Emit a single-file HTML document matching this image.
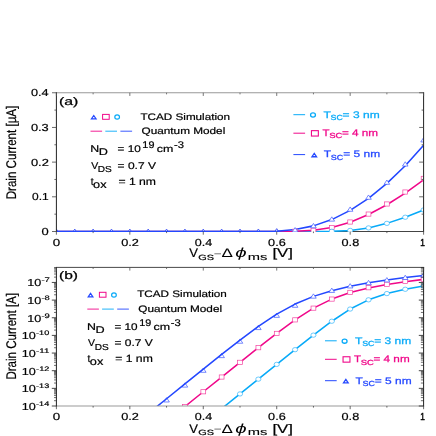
<!DOCTYPE html>
<html><head><meta charset="utf-8"><title>chart</title>
<style>html,body{margin:0;padding:0;background:#fff;}svg{display:block;will-change:transform;}</style></head>
<body>
<svg width="436" height="436" viewBox="0 0 436 436" font-family="'Liberation Sans', sans-serif" text-rendering="geometricPrecision">
<rect width="436" height="436" fill="#fff"/>
<defs><clipPath id="ca"><rect x="56.4" y="92.75" width="367.20000000000005" height="139.35"/></clipPath><clipPath id="cb"><rect x="56.4" y="267.4" width="367.20000000000005" height="138.60000000000002"/></clipPath></defs>
<line x1="56.4" y1="231.5" x2="423.6" y2="231.5" stroke="#222" stroke-width="0.85"/>
<g clip-path="url(#ca)">
<path d="M56.40,231.40 L74.76,231.40 L93.12,231.40 L111.48,231.40 L129.84,231.40 L148.20,231.40 L166.56,231.40 L184.92,231.40 L203.28,231.40 L221.64,231.40 L240.00,231.40 L258.36,231.40 L276.72,231.40 L295.08,231.40 L313.44,231.40 L331.80,231.40" fill="none" stroke="#08aaf8" stroke-width="1.25"/><path d="M331.80,231.30 L350.16,230.42 L368.52,227.91 L386.88,223.37 L405.24,217.24 L423.60,209.96" fill="none" stroke="#08aaf8" stroke-width="1.55" stroke-linejoin="round"/>
<path d="M56.40,231.40 L74.76,231.40 L93.12,231.40 L111.48,231.40 L129.84,231.40 L148.20,231.40 L166.56,231.40 L184.92,231.40 L203.28,231.40 L221.64,231.40 L240.00,231.40 L258.36,231.40 L276.72,231.40 L295.08,231.40" fill="none" stroke="#f0088a" stroke-width="1.25"/><path d="M295.08,231.30 L313.44,230.28 L331.80,227.54 L350.16,222.27 L368.52,214.55 L386.88,204.74 L405.24,193.10 L423.60,179.82" fill="none" stroke="#f0088a" stroke-width="1.55" stroke-linejoin="round"/>
<path d="M53.26,233.91 L59.54,233.91 L56.40,229.09 Z" fill="#fff" stroke="#4a5cf5" stroke-width="1.0"/><path d="M71.62,233.91 L77.90,233.91 L74.76,229.09 Z" fill="#fff" stroke="#4a5cf5" stroke-width="1.0"/><path d="M89.98,233.91 L96.26,233.91 L93.12,229.09 Z" fill="#fff" stroke="#4a5cf5" stroke-width="1.0"/><path d="M108.34,233.91 L114.62,233.91 L111.48,229.09 Z" fill="#fff" stroke="#4a5cf5" stroke-width="1.0"/><path d="M126.70,233.91 L132.98,233.91 L129.84,229.09 Z" fill="#fff" stroke="#4a5cf5" stroke-width="1.0"/><path d="M145.06,233.91 L151.34,233.91 L148.20,229.09 Z" fill="#fff" stroke="#4a5cf5" stroke-width="1.0"/><path d="M163.42,233.91 L169.70,233.91 L166.56,229.09 Z" fill="#fff" stroke="#4a5cf5" stroke-width="1.0"/><path d="M181.78,233.91 L188.06,233.91 L184.92,229.09 Z" fill="#fff" stroke="#4a5cf5" stroke-width="1.0"/><path d="M200.14,233.91 L206.42,233.91 L203.28,229.09 Z" fill="#fff" stroke="#4a5cf5" stroke-width="1.0"/><path d="M218.50,233.91 L224.78,233.91 L221.64,229.09 Z" fill="#fff" stroke="#4a5cf5" stroke-width="1.0"/><path d="M236.86,233.89 L243.14,233.89 L240.00,229.08 Z" fill="#fff" stroke="#4a5cf5" stroke-width="1.0"/><path d="M255.22,233.81 L261.50,233.81 L258.36,228.99 Z" fill="#fff" stroke="#4a5cf5" stroke-width="1.0"/><path d="M273.58,233.42 L279.86,233.42 L276.72,228.61 Z" fill="#fff" stroke="#4a5cf5" stroke-width="1.0"/>
<path d="M56.40,231.40 L74.76,231.40 L93.12,231.40 L111.48,231.40 L129.84,231.40 L148.20,231.40 L166.56,231.40 L184.92,231.40 L203.28,231.40 L221.64,231.40 L240.00,231.40 L258.36,231.40 L276.72,231.40" fill="none" stroke="#2448ff" stroke-width="1.25"/><path d="M276.72,231.30 L295.08,229.43 L313.44,225.87 L331.80,219.58 L350.16,210.37 L368.52,198.28 L386.88,183.38 L405.24,165.71 L423.60,145.31" fill="none" stroke="#2448ff" stroke-width="1.55" stroke-linejoin="round"/>
<rect x="292.68" y="229.14" width="4.80" height="4.20" fill="#fff" stroke="#f440a0" stroke-width="0.7"/><rect x="311.04" y="228.18" width="4.80" height="4.20" fill="#fff" stroke="#f440a0" stroke-width="0.7"/><rect x="329.40" y="225.44" width="4.80" height="4.20" fill="#fff" stroke="#f440a0" stroke-width="0.7"/><rect x="347.76" y="219.91" width="4.80" height="4.20" fill="#fff" stroke="#f440a0" stroke-width="0.7"/><rect x="366.12" y="211.98" width="4.80" height="4.20" fill="#fff" stroke="#f440a0" stroke-width="0.7"/><rect x="384.48" y="201.89" width="4.80" height="4.20" fill="#fff" stroke="#f440a0" stroke-width="0.7"/><rect x="402.84" y="189.93" width="4.80" height="4.20" fill="#fff" stroke="#f440a0" stroke-width="0.7"/><rect x="421.20" y="176.28" width="4.80" height="4.20" fill="#fff" stroke="#f440a0" stroke-width="0.7"/>
<ellipse cx="331.80" cy="231.28" rx="2.60" ry="2.15" fill="#fff" stroke="#30b4fa" stroke-width="0.7"/><ellipse cx="350.16" cy="230.42" rx="2.60" ry="2.15" fill="#fff" stroke="#30b4fa" stroke-width="0.7"/><ellipse cx="368.52" cy="227.91" rx="2.60" ry="2.15" fill="#fff" stroke="#30b4fa" stroke-width="0.7"/><ellipse cx="386.88" cy="223.37" rx="2.60" ry="2.15" fill="#fff" stroke="#30b4fa" stroke-width="0.7"/><ellipse cx="405.24" cy="217.24" rx="2.60" ry="2.15" fill="#fff" stroke="#30b4fa" stroke-width="0.7"/><ellipse cx="423.60" cy="209.96" rx="2.60" ry="2.15" fill="#fff" stroke="#30b4fa" stroke-width="0.7"/>
<path d="M292.28,231.85 L297.88,231.85 L295.08,227.55 Z" fill="#fff" stroke="#3c58ff" stroke-width="0.7"/><path d="M310.64,227.74 L316.24,227.74 L313.44,223.44 Z" fill="#fff" stroke="#3c58ff" stroke-width="0.7"/><path d="M329.00,221.13 L334.60,221.13 L331.80,216.83 Z" fill="#fff" stroke="#3c58ff" stroke-width="0.7"/><path d="M347.36,211.25 L352.96,211.25 L350.16,206.95 Z" fill="#fff" stroke="#3c58ff" stroke-width="0.7"/><path d="M365.72,199.27 L371.32,199.27 L368.52,194.97 Z" fill="#fff" stroke="#3c58ff" stroke-width="0.7"/><path d="M384.08,184.32 L389.68,184.32 L386.88,180.02 Z" fill="#fff" stroke="#3c58ff" stroke-width="0.7"/><path d="M402.44,166.08 L408.04,166.08 L405.24,161.78 Z" fill="#fff" stroke="#3c58ff" stroke-width="0.7"/><path d="M420.80,141.94 L426.40,141.94 L423.60,137.64 Z" fill="#fff" stroke="#3c58ff" stroke-width="0.7"/>
</g>
<g clip-path="url(#cb)">
<path d="M56.40,541.71 L74.76,526.93 L93.12,512.15 L111.48,497.37 L129.84,482.59 L148.20,467.81 L166.56,453.03 L184.92,438.25 L203.28,423.48 L221.64,408.70 L240.00,393.92 L258.36,379.14 L276.72,364.38 L295.08,349.67 L313.44,335.13 L331.80,321.23 L350.16,309.04 L368.52,299.83 L386.88,293.57 L405.24,289.26 L423.60,286.10" fill="none" stroke="#08aaf8" stroke-width="1.55" stroke-linejoin="round"/>
<path d="M56.40,509.78 L74.76,495.03 L93.12,480.27 L111.48,465.52 L129.84,450.77 L148.20,436.02 L166.56,421.27 L184.92,406.52 L203.28,391.77 L221.64,377.03 L240.00,362.33 L258.36,347.71 L276.72,333.39 L295.08,319.87 L313.44,308.14 L331.80,299.08 L350.16,292.60 L368.52,287.94 L386.88,284.44 L405.24,281.67 L423.60,279.39" fill="none" stroke="#f0088a" stroke-width="1.55" stroke-linejoin="round"/>
<rect x="54.00" y="507.68" width="4.80" height="4.20" fill="#fff" stroke="#f440a0" stroke-width="0.7"/><rect x="72.36" y="492.93" width="4.80" height="4.20" fill="#fff" stroke="#f440a0" stroke-width="0.7"/><rect x="90.72" y="478.17" width="4.80" height="4.20" fill="#fff" stroke="#f440a0" stroke-width="0.7"/><rect x="109.08" y="463.42" width="4.80" height="4.20" fill="#fff" stroke="#f440a0" stroke-width="0.7"/><rect x="127.44" y="448.67" width="4.80" height="4.20" fill="#fff" stroke="#f440a0" stroke-width="0.7"/><rect x="145.80" y="433.92" width="4.80" height="4.20" fill="#fff" stroke="#f440a0" stroke-width="0.7"/><rect x="164.16" y="419.17" width="4.80" height="4.20" fill="#fff" stroke="#f440a0" stroke-width="0.7"/><rect x="182.52" y="404.42" width="4.80" height="4.20" fill="#fff" stroke="#f440a0" stroke-width="0.7"/><rect x="200.88" y="389.67" width="4.80" height="4.20" fill="#fff" stroke="#f440a0" stroke-width="0.7"/><rect x="219.24" y="374.93" width="4.80" height="4.20" fill="#fff" stroke="#f440a0" stroke-width="0.7"/><rect x="237.60" y="360.23" width="4.80" height="4.20" fill="#fff" stroke="#f440a0" stroke-width="0.7"/><rect x="255.96" y="345.61" width="4.80" height="4.20" fill="#fff" stroke="#f440a0" stroke-width="0.7"/><rect x="274.32" y="331.29" width="4.80" height="4.20" fill="#fff" stroke="#f440a0" stroke-width="0.7"/><rect x="292.68" y="317.77" width="4.80" height="4.20" fill="#fff" stroke="#f440a0" stroke-width="0.7"/><rect x="311.04" y="306.04" width="4.80" height="4.20" fill="#fff" stroke="#f440a0" stroke-width="0.7"/><rect x="329.40" y="296.98" width="4.80" height="4.20" fill="#fff" stroke="#f440a0" stroke-width="0.7"/><rect x="347.76" y="290.29" width="4.80" height="4.20" fill="#fff" stroke="#f440a0" stroke-width="0.7"/><rect x="366.12" y="285.63" width="4.80" height="4.20" fill="#fff" stroke="#f440a0" stroke-width="0.7"/><rect x="384.48" y="282.13" width="4.80" height="4.20" fill="#fff" stroke="#f440a0" stroke-width="0.7"/><rect x="402.84" y="279.36" width="4.80" height="4.20" fill="#fff" stroke="#f440a0" stroke-width="0.7"/><rect x="421.20" y="277.08" width="4.80" height="4.20" fill="#fff" stroke="#f440a0" stroke-width="0.7"/>
<ellipse cx="56.40" cy="541.71" rx="2.60" ry="2.15" fill="#fff" stroke="#30b4fa" stroke-width="0.7"/><ellipse cx="74.76" cy="526.93" rx="2.60" ry="2.15" fill="#fff" stroke="#30b4fa" stroke-width="0.7"/><ellipse cx="93.12" cy="512.15" rx="2.60" ry="2.15" fill="#fff" stroke="#30b4fa" stroke-width="0.7"/><ellipse cx="111.48" cy="497.37" rx="2.60" ry="2.15" fill="#fff" stroke="#30b4fa" stroke-width="0.7"/><ellipse cx="129.84" cy="482.59" rx="2.60" ry="2.15" fill="#fff" stroke="#30b4fa" stroke-width="0.7"/><ellipse cx="148.20" cy="467.81" rx="2.60" ry="2.15" fill="#fff" stroke="#30b4fa" stroke-width="0.7"/><ellipse cx="166.56" cy="453.03" rx="2.60" ry="2.15" fill="#fff" stroke="#30b4fa" stroke-width="0.7"/><ellipse cx="184.92" cy="438.25" rx="2.60" ry="2.15" fill="#fff" stroke="#30b4fa" stroke-width="0.7"/><ellipse cx="203.28" cy="423.48" rx="2.60" ry="2.15" fill="#fff" stroke="#30b4fa" stroke-width="0.7"/><ellipse cx="221.64" cy="408.70" rx="2.60" ry="2.15" fill="#fff" stroke="#30b4fa" stroke-width="0.7"/><ellipse cx="240.00" cy="393.92" rx="2.60" ry="2.15" fill="#fff" stroke="#30b4fa" stroke-width="0.7"/><ellipse cx="258.36" cy="379.14" rx="2.60" ry="2.15" fill="#fff" stroke="#30b4fa" stroke-width="0.7"/><ellipse cx="276.72" cy="364.38" rx="2.60" ry="2.15" fill="#fff" stroke="#30b4fa" stroke-width="0.7"/><ellipse cx="295.08" cy="349.67" rx="2.60" ry="2.15" fill="#fff" stroke="#30b4fa" stroke-width="0.7"/><ellipse cx="313.44" cy="335.13" rx="2.60" ry="2.15" fill="#fff" stroke="#30b4fa" stroke-width="0.7"/><ellipse cx="331.80" cy="321.23" rx="2.60" ry="2.15" fill="#fff" stroke="#30b4fa" stroke-width="0.7"/><ellipse cx="350.16" cy="309.04" rx="2.60" ry="2.15" fill="#fff" stroke="#30b4fa" stroke-width="0.7"/><ellipse cx="368.52" cy="299.83" rx="2.60" ry="2.15" fill="#fff" stroke="#30b4fa" stroke-width="0.7"/><ellipse cx="386.88" cy="293.57" rx="2.60" ry="2.15" fill="#fff" stroke="#30b4fa" stroke-width="0.7"/><ellipse cx="405.24" cy="289.26" rx="2.60" ry="2.15" fill="#fff" stroke="#30b4fa" stroke-width="0.7"/><ellipse cx="423.60" cy="286.10" rx="2.60" ry="2.15" fill="#fff" stroke="#30b4fa" stroke-width="0.7"/>
<path d="M53.60,491.23 L59.20,491.23 L56.40,486.93 Z" fill="#fff" stroke="#3c58ff" stroke-width="0.7"/><path d="M71.96,476.35 L77.56,476.35 L74.76,472.05 Z" fill="#fff" stroke="#3c58ff" stroke-width="0.7"/><path d="M90.32,461.47 L95.92,461.47 L93.12,457.17 Z" fill="#fff" stroke="#3c58ff" stroke-width="0.7"/><path d="M108.68,446.59 L114.28,446.59 L111.48,442.29 Z" fill="#fff" stroke="#3c58ff" stroke-width="0.7"/><path d="M127.04,431.72 L132.64,431.72 L129.84,427.42 Z" fill="#fff" stroke="#3c58ff" stroke-width="0.7"/><path d="M145.40,416.84 L151.00,416.84 L148.20,412.54 Z" fill="#fff" stroke="#3c58ff" stroke-width="0.7"/><path d="M163.76,401.97 L169.36,401.97 L166.56,397.67 Z" fill="#fff" stroke="#3c58ff" stroke-width="0.7"/><path d="M182.12,387.12 L187.72,387.12 L184.92,382.82 Z" fill="#fff" stroke="#3c58ff" stroke-width="0.7"/><path d="M200.48,372.31 L206.08,372.31 L203.28,368.01 Z" fill="#fff" stroke="#3c58ff" stroke-width="0.7"/><path d="M218.84,357.63 L224.44,357.63 L221.64,353.33 Z" fill="#fff" stroke="#3c58ff" stroke-width="0.7"/><path d="M237.20,343.24 L242.80,343.24 L240.00,338.94 Z" fill="#fff" stroke="#3c58ff" stroke-width="0.7"/><path d="M255.56,329.58 L261.16,329.58 L258.36,325.28 Z" fill="#fff" stroke="#3c58ff" stroke-width="0.7"/><path d="M273.92,317.34 L279.52,317.34 L276.72,313.04 Z" fill="#fff" stroke="#3c58ff" stroke-width="0.7"/><path d="M292.28,307.29 L297.88,307.29 L295.08,302.99 Z" fill="#fff" stroke="#3c58ff" stroke-width="0.7"/>
<path d="M56.40,488.01 L74.76,473.13 L93.12,458.26 L111.48,443.38 L129.84,428.50 L148.20,413.62 L166.56,398.75 L184.92,383.90 L203.28,369.10 L221.64,354.41 L240.00,340.03 L258.36,326.36 L276.72,314.13 L295.08,304.07 L313.44,296.38 L331.80,290.64 L350.16,286.25 L368.52,282.78 L386.88,279.94 L405.24,277.54 L423.60,275.47" fill="none" stroke="#2448ff" stroke-width="1.55" stroke-linejoin="round"/>
<path d="M310.64,298.16 L316.24,298.16 L313.44,293.86 Z" fill="#fff" stroke="#3c58ff" stroke-width="0.7"/><path d="M329.00,292.41 L334.60,292.41 L331.80,288.11 Z" fill="#fff" stroke="#3c58ff" stroke-width="0.7"/><path d="M347.36,287.95 L352.96,287.95 L350.16,283.65 Z" fill="#fff" stroke="#3c58ff" stroke-width="0.7"/><path d="M365.72,284.67 L371.32,284.67 L368.52,280.37 Z" fill="#fff" stroke="#3c58ff" stroke-width="0.7"/><path d="M384.08,281.90 L389.68,281.90 L386.88,277.60 Z" fill="#fff" stroke="#3c58ff" stroke-width="0.7"/><path d="M402.44,279.49 L408.04,279.49 L405.24,275.19 Z" fill="#fff" stroke="#3c58ff" stroke-width="0.7"/><path d="M420.80,277.15 L426.40,277.15 L423.60,272.85 Z" fill="#fff" stroke="#3c58ff" stroke-width="0.7"/>
</g>
<line x1="55.90" y1="92.75" x2="424.10" y2="92.75" stroke="#999" stroke-width="1.2"/>
<line x1="56.40" y1="92.35" x2="56.40" y2="231.90" stroke="#222" stroke-width="1"/>
<line x1="423.60" y1="92.35" x2="423.60" y2="231.90" stroke="#222" stroke-width="1"/>
<line x1="56.40" y1="92.75" x2="56.40" y2="95.95" stroke="#555" stroke-width="0.8"/>
<line x1="56.40" y1="231.50" x2="56.40" y2="234.70" stroke="#444" stroke-width="0.8"/>
<line x1="93.12" y1="92.75" x2="93.12" y2="94.35" stroke="#555" stroke-width="0.8"/>
<line x1="93.12" y1="231.50" x2="93.12" y2="233.10" stroke="#444" stroke-width="0.8"/>
<line x1="129.84" y1="92.75" x2="129.84" y2="95.95" stroke="#555" stroke-width="0.8"/>
<line x1="129.84" y1="231.50" x2="129.84" y2="234.70" stroke="#444" stroke-width="0.8"/>
<line x1="166.56" y1="92.75" x2="166.56" y2="94.35" stroke="#555" stroke-width="0.8"/>
<line x1="166.56" y1="231.50" x2="166.56" y2="233.10" stroke="#444" stroke-width="0.8"/>
<line x1="203.28" y1="92.75" x2="203.28" y2="95.95" stroke="#555" stroke-width="0.8"/>
<line x1="203.28" y1="231.50" x2="203.28" y2="234.70" stroke="#444" stroke-width="0.8"/>
<line x1="240.00" y1="92.75" x2="240.00" y2="94.35" stroke="#555" stroke-width="0.8"/>
<line x1="240.00" y1="231.50" x2="240.00" y2="233.10" stroke="#444" stroke-width="0.8"/>
<line x1="276.72" y1="92.75" x2="276.72" y2="95.95" stroke="#555" stroke-width="0.8"/>
<line x1="276.72" y1="231.50" x2="276.72" y2="234.70" stroke="#444" stroke-width="0.8"/>
<line x1="313.44" y1="92.75" x2="313.44" y2="94.35" stroke="#555" stroke-width="0.8"/>
<line x1="313.44" y1="231.50" x2="313.44" y2="233.10" stroke="#444" stroke-width="0.8"/>
<line x1="350.16" y1="92.75" x2="350.16" y2="95.95" stroke="#555" stroke-width="0.8"/>
<line x1="350.16" y1="231.50" x2="350.16" y2="234.70" stroke="#444" stroke-width="0.8"/>
<line x1="386.88" y1="92.75" x2="386.88" y2="94.35" stroke="#555" stroke-width="0.8"/>
<line x1="386.88" y1="231.50" x2="386.88" y2="233.10" stroke="#444" stroke-width="0.8"/>
<line x1="423.60" y1="92.75" x2="423.60" y2="95.95" stroke="#555" stroke-width="0.8"/>
<line x1="423.60" y1="231.50" x2="423.60" y2="234.70" stroke="#444" stroke-width="0.8"/>
<line x1="55.90" y1="267.40" x2="424.10" y2="267.40" stroke="#333" stroke-width="0.9"/>
<line x1="55.90" y1="406.00" x2="424.10" y2="406.00" stroke="#999" stroke-width="1.0"/>
<line x1="56.40" y1="267.00" x2="56.40" y2="406.40" stroke="#222" stroke-width="1"/>
<line x1="423.60" y1="267.00" x2="423.60" y2="406.40" stroke="#222" stroke-width="1"/>
<line x1="56.40" y1="267.40" x2="56.40" y2="270.60" stroke="#555" stroke-width="0.8"/>
<line x1="56.40" y1="406.00" x2="56.40" y2="409.20" stroke="#444" stroke-width="0.8"/>
<line x1="93.12" y1="267.40" x2="93.12" y2="269.00" stroke="#555" stroke-width="0.8"/>
<line x1="93.12" y1="406.00" x2="93.12" y2="407.60" stroke="#444" stroke-width="0.8"/>
<line x1="129.84" y1="267.40" x2="129.84" y2="270.60" stroke="#555" stroke-width="0.8"/>
<line x1="129.84" y1="406.00" x2="129.84" y2="409.20" stroke="#444" stroke-width="0.8"/>
<line x1="166.56" y1="267.40" x2="166.56" y2="269.00" stroke="#555" stroke-width="0.8"/>
<line x1="166.56" y1="406.00" x2="166.56" y2="407.60" stroke="#444" stroke-width="0.8"/>
<line x1="203.28" y1="267.40" x2="203.28" y2="270.60" stroke="#555" stroke-width="0.8"/>
<line x1="203.28" y1="406.00" x2="203.28" y2="409.20" stroke="#444" stroke-width="0.8"/>
<line x1="240.00" y1="267.40" x2="240.00" y2="269.00" stroke="#555" stroke-width="0.8"/>
<line x1="240.00" y1="406.00" x2="240.00" y2="407.60" stroke="#444" stroke-width="0.8"/>
<line x1="276.72" y1="267.40" x2="276.72" y2="270.60" stroke="#555" stroke-width="0.8"/>
<line x1="276.72" y1="406.00" x2="276.72" y2="409.20" stroke="#444" stroke-width="0.8"/>
<line x1="313.44" y1="267.40" x2="313.44" y2="269.00" stroke="#555" stroke-width="0.8"/>
<line x1="313.44" y1="406.00" x2="313.44" y2="407.60" stroke="#444" stroke-width="0.8"/>
<line x1="350.16" y1="267.40" x2="350.16" y2="270.60" stroke="#555" stroke-width="0.8"/>
<line x1="350.16" y1="406.00" x2="350.16" y2="409.20" stroke="#444" stroke-width="0.8"/>
<line x1="386.88" y1="267.40" x2="386.88" y2="269.00" stroke="#555" stroke-width="0.8"/>
<line x1="386.88" y1="406.00" x2="386.88" y2="407.60" stroke="#444" stroke-width="0.8"/>
<line x1="423.60" y1="267.40" x2="423.60" y2="270.60" stroke="#555" stroke-width="0.8"/>
<line x1="423.60" y1="406.00" x2="423.60" y2="409.20" stroke="#444" stroke-width="0.8"/>
<line x1="52.00" y1="231.50" x2="56.40" y2="231.50" stroke="#444" stroke-width="0.8"/>
<line x1="419.20" y1="231.50" x2="423.60" y2="231.50" stroke="#444" stroke-width="0.8"/>
<line x1="54.40" y1="214.16" x2="56.40" y2="214.16" stroke="#444" stroke-width="0.8"/>
<line x1="421.60" y1="214.16" x2="423.60" y2="214.16" stroke="#444" stroke-width="0.8"/>
<line x1="52.00" y1="196.81" x2="56.40" y2="196.81" stroke="#444" stroke-width="0.8"/>
<line x1="419.20" y1="196.81" x2="423.60" y2="196.81" stroke="#444" stroke-width="0.8"/>
<line x1="54.40" y1="179.47" x2="56.40" y2="179.47" stroke="#444" stroke-width="0.8"/>
<line x1="421.60" y1="179.47" x2="423.60" y2="179.47" stroke="#444" stroke-width="0.8"/>
<line x1="52.00" y1="162.12" x2="56.40" y2="162.12" stroke="#444" stroke-width="0.8"/>
<line x1="419.20" y1="162.12" x2="423.60" y2="162.12" stroke="#444" stroke-width="0.8"/>
<line x1="54.40" y1="144.78" x2="56.40" y2="144.78" stroke="#444" stroke-width="0.8"/>
<line x1="421.60" y1="144.78" x2="423.60" y2="144.78" stroke="#444" stroke-width="0.8"/>
<line x1="52.00" y1="127.44" x2="56.40" y2="127.44" stroke="#444" stroke-width="0.8"/>
<line x1="419.20" y1="127.44" x2="423.60" y2="127.44" stroke="#444" stroke-width="0.8"/>
<line x1="54.40" y1="110.09" x2="56.40" y2="110.09" stroke="#444" stroke-width="0.8"/>
<line x1="421.60" y1="110.09" x2="423.60" y2="110.09" stroke="#444" stroke-width="0.8"/>
<line x1="52.00" y1="92.75" x2="56.40" y2="92.75" stroke="#444" stroke-width="0.8"/>
<line x1="419.20" y1="92.75" x2="423.60" y2="92.75" stroke="#444" stroke-width="0.8"/>
<line x1="51.80" y1="406.00" x2="56.40" y2="406.00" stroke="#333" stroke-width="0.9"/>
<line x1="418.80" y1="406.00" x2="423.60" y2="406.00" stroke="#333" stroke-width="0.9"/>
<line x1="54.00" y1="400.69" x2="56.40" y2="400.69" stroke="#222" stroke-width="0.65"/>
<line x1="420.90" y1="400.69" x2="423.60" y2="400.69" stroke="#222" stroke-width="0.65"/>
<line x1="54.00" y1="397.58" x2="56.40" y2="397.58" stroke="#222" stroke-width="0.65"/>
<line x1="420.90" y1="397.58" x2="423.60" y2="397.58" stroke="#222" stroke-width="0.65"/>
<line x1="54.00" y1="395.37" x2="56.40" y2="395.37" stroke="#222" stroke-width="0.65"/>
<line x1="420.90" y1="395.37" x2="423.60" y2="395.37" stroke="#222" stroke-width="0.65"/>
<line x1="54.00" y1="393.66" x2="56.40" y2="393.66" stroke="#222" stroke-width="0.65"/>
<line x1="420.90" y1="393.66" x2="423.60" y2="393.66" stroke="#222" stroke-width="0.65"/>
<line x1="54.00" y1="392.27" x2="56.40" y2="392.27" stroke="#222" stroke-width="0.65"/>
<line x1="420.90" y1="392.27" x2="423.60" y2="392.27" stroke="#222" stroke-width="0.65"/>
<line x1="54.00" y1="391.08" x2="56.40" y2="391.08" stroke="#222" stroke-width="0.65"/>
<line x1="420.90" y1="391.08" x2="423.60" y2="391.08" stroke="#222" stroke-width="0.65"/>
<line x1="54.00" y1="390.06" x2="56.40" y2="390.06" stroke="#222" stroke-width="0.65"/>
<line x1="420.90" y1="390.06" x2="423.60" y2="390.06" stroke="#222" stroke-width="0.65"/>
<line x1="54.00" y1="389.16" x2="56.40" y2="389.16" stroke="#222" stroke-width="0.65"/>
<line x1="420.90" y1="389.16" x2="423.60" y2="389.16" stroke="#222" stroke-width="0.65"/>
<line x1="51.80" y1="388.35" x2="56.40" y2="388.35" stroke="#333" stroke-width="0.9"/>
<line x1="418.80" y1="388.35" x2="423.60" y2="388.35" stroke="#333" stroke-width="0.9"/>
<line x1="54.00" y1="383.04" x2="56.40" y2="383.04" stroke="#222" stroke-width="0.65"/>
<line x1="420.90" y1="383.04" x2="423.60" y2="383.04" stroke="#222" stroke-width="0.65"/>
<line x1="54.00" y1="379.93" x2="56.40" y2="379.93" stroke="#222" stroke-width="0.65"/>
<line x1="420.90" y1="379.93" x2="423.60" y2="379.93" stroke="#222" stroke-width="0.65"/>
<line x1="54.00" y1="377.72" x2="56.40" y2="377.72" stroke="#222" stroke-width="0.65"/>
<line x1="420.90" y1="377.72" x2="423.60" y2="377.72" stroke="#222" stroke-width="0.65"/>
<line x1="54.00" y1="376.01" x2="56.40" y2="376.01" stroke="#222" stroke-width="0.65"/>
<line x1="420.90" y1="376.01" x2="423.60" y2="376.01" stroke="#222" stroke-width="0.65"/>
<line x1="54.00" y1="374.62" x2="56.40" y2="374.62" stroke="#222" stroke-width="0.65"/>
<line x1="420.90" y1="374.62" x2="423.60" y2="374.62" stroke="#222" stroke-width="0.65"/>
<line x1="54.00" y1="373.43" x2="56.40" y2="373.43" stroke="#222" stroke-width="0.65"/>
<line x1="420.90" y1="373.43" x2="423.60" y2="373.43" stroke="#222" stroke-width="0.65"/>
<line x1="54.00" y1="372.41" x2="56.40" y2="372.41" stroke="#222" stroke-width="0.65"/>
<line x1="420.90" y1="372.41" x2="423.60" y2="372.41" stroke="#222" stroke-width="0.65"/>
<line x1="54.00" y1="371.51" x2="56.40" y2="371.51" stroke="#222" stroke-width="0.65"/>
<line x1="420.90" y1="371.51" x2="423.60" y2="371.51" stroke="#222" stroke-width="0.65"/>
<line x1="51.80" y1="370.70" x2="56.40" y2="370.70" stroke="#333" stroke-width="0.9"/>
<line x1="418.80" y1="370.70" x2="423.60" y2="370.70" stroke="#333" stroke-width="0.9"/>
<line x1="54.00" y1="365.39" x2="56.40" y2="365.39" stroke="#222" stroke-width="0.65"/>
<line x1="420.90" y1="365.39" x2="423.60" y2="365.39" stroke="#222" stroke-width="0.65"/>
<line x1="54.00" y1="362.28" x2="56.40" y2="362.28" stroke="#222" stroke-width="0.65"/>
<line x1="420.90" y1="362.28" x2="423.60" y2="362.28" stroke="#222" stroke-width="0.65"/>
<line x1="54.00" y1="360.07" x2="56.40" y2="360.07" stroke="#222" stroke-width="0.65"/>
<line x1="420.90" y1="360.07" x2="423.60" y2="360.07" stroke="#222" stroke-width="0.65"/>
<line x1="54.00" y1="358.36" x2="56.40" y2="358.36" stroke="#222" stroke-width="0.65"/>
<line x1="420.90" y1="358.36" x2="423.60" y2="358.36" stroke="#222" stroke-width="0.65"/>
<line x1="54.00" y1="356.97" x2="56.40" y2="356.97" stroke="#222" stroke-width="0.65"/>
<line x1="420.90" y1="356.97" x2="423.60" y2="356.97" stroke="#222" stroke-width="0.65"/>
<line x1="54.00" y1="355.78" x2="56.40" y2="355.78" stroke="#222" stroke-width="0.65"/>
<line x1="420.90" y1="355.78" x2="423.60" y2="355.78" stroke="#222" stroke-width="0.65"/>
<line x1="54.00" y1="354.76" x2="56.40" y2="354.76" stroke="#222" stroke-width="0.65"/>
<line x1="420.90" y1="354.76" x2="423.60" y2="354.76" stroke="#222" stroke-width="0.65"/>
<line x1="54.00" y1="353.86" x2="56.40" y2="353.86" stroke="#222" stroke-width="0.65"/>
<line x1="420.90" y1="353.86" x2="423.60" y2="353.86" stroke="#222" stroke-width="0.65"/>
<line x1="51.80" y1="353.05" x2="56.40" y2="353.05" stroke="#333" stroke-width="0.9"/>
<line x1="418.80" y1="353.05" x2="423.60" y2="353.05" stroke="#333" stroke-width="0.9"/>
<line x1="54.00" y1="347.74" x2="56.40" y2="347.74" stroke="#222" stroke-width="0.65"/>
<line x1="420.90" y1="347.74" x2="423.60" y2="347.74" stroke="#222" stroke-width="0.65"/>
<line x1="54.00" y1="344.63" x2="56.40" y2="344.63" stroke="#222" stroke-width="0.65"/>
<line x1="420.90" y1="344.63" x2="423.60" y2="344.63" stroke="#222" stroke-width="0.65"/>
<line x1="54.00" y1="342.42" x2="56.40" y2="342.42" stroke="#222" stroke-width="0.65"/>
<line x1="420.90" y1="342.42" x2="423.60" y2="342.42" stroke="#222" stroke-width="0.65"/>
<line x1="54.00" y1="340.71" x2="56.40" y2="340.71" stroke="#222" stroke-width="0.65"/>
<line x1="420.90" y1="340.71" x2="423.60" y2="340.71" stroke="#222" stroke-width="0.65"/>
<line x1="54.00" y1="339.32" x2="56.40" y2="339.32" stroke="#222" stroke-width="0.65"/>
<line x1="420.90" y1="339.32" x2="423.60" y2="339.32" stroke="#222" stroke-width="0.65"/>
<line x1="54.00" y1="338.13" x2="56.40" y2="338.13" stroke="#222" stroke-width="0.65"/>
<line x1="420.90" y1="338.13" x2="423.60" y2="338.13" stroke="#222" stroke-width="0.65"/>
<line x1="54.00" y1="337.11" x2="56.40" y2="337.11" stroke="#222" stroke-width="0.65"/>
<line x1="420.90" y1="337.11" x2="423.60" y2="337.11" stroke="#222" stroke-width="0.65"/>
<line x1="54.00" y1="336.21" x2="56.40" y2="336.21" stroke="#222" stroke-width="0.65"/>
<line x1="420.90" y1="336.21" x2="423.60" y2="336.21" stroke="#222" stroke-width="0.65"/>
<line x1="51.80" y1="335.40" x2="56.40" y2="335.40" stroke="#333" stroke-width="0.9"/>
<line x1="418.80" y1="335.40" x2="423.60" y2="335.40" stroke="#333" stroke-width="0.9"/>
<line x1="54.00" y1="330.09" x2="56.40" y2="330.09" stroke="#222" stroke-width="0.65"/>
<line x1="420.90" y1="330.09" x2="423.60" y2="330.09" stroke="#222" stroke-width="0.65"/>
<line x1="54.00" y1="326.98" x2="56.40" y2="326.98" stroke="#222" stroke-width="0.65"/>
<line x1="420.90" y1="326.98" x2="423.60" y2="326.98" stroke="#222" stroke-width="0.65"/>
<line x1="54.00" y1="324.77" x2="56.40" y2="324.77" stroke="#222" stroke-width="0.65"/>
<line x1="420.90" y1="324.77" x2="423.60" y2="324.77" stroke="#222" stroke-width="0.65"/>
<line x1="54.00" y1="323.06" x2="56.40" y2="323.06" stroke="#222" stroke-width="0.65"/>
<line x1="420.90" y1="323.06" x2="423.60" y2="323.06" stroke="#222" stroke-width="0.65"/>
<line x1="54.00" y1="321.67" x2="56.40" y2="321.67" stroke="#222" stroke-width="0.65"/>
<line x1="420.90" y1="321.67" x2="423.60" y2="321.67" stroke="#222" stroke-width="0.65"/>
<line x1="54.00" y1="320.48" x2="56.40" y2="320.48" stroke="#222" stroke-width="0.65"/>
<line x1="420.90" y1="320.48" x2="423.60" y2="320.48" stroke="#222" stroke-width="0.65"/>
<line x1="54.00" y1="319.46" x2="56.40" y2="319.46" stroke="#222" stroke-width="0.65"/>
<line x1="420.90" y1="319.46" x2="423.60" y2="319.46" stroke="#222" stroke-width="0.65"/>
<line x1="54.00" y1="318.56" x2="56.40" y2="318.56" stroke="#222" stroke-width="0.65"/>
<line x1="420.90" y1="318.56" x2="423.60" y2="318.56" stroke="#222" stroke-width="0.65"/>
<line x1="51.80" y1="317.75" x2="56.40" y2="317.75" stroke="#333" stroke-width="0.9"/>
<line x1="418.80" y1="317.75" x2="423.60" y2="317.75" stroke="#333" stroke-width="0.9"/>
<line x1="54.00" y1="312.44" x2="56.40" y2="312.44" stroke="#222" stroke-width="0.65"/>
<line x1="420.90" y1="312.44" x2="423.60" y2="312.44" stroke="#222" stroke-width="0.65"/>
<line x1="54.00" y1="309.33" x2="56.40" y2="309.33" stroke="#222" stroke-width="0.65"/>
<line x1="420.90" y1="309.33" x2="423.60" y2="309.33" stroke="#222" stroke-width="0.65"/>
<line x1="54.00" y1="307.12" x2="56.40" y2="307.12" stroke="#222" stroke-width="0.65"/>
<line x1="420.90" y1="307.12" x2="423.60" y2="307.12" stroke="#222" stroke-width="0.65"/>
<line x1="54.00" y1="305.41" x2="56.40" y2="305.41" stroke="#222" stroke-width="0.65"/>
<line x1="420.90" y1="305.41" x2="423.60" y2="305.41" stroke="#222" stroke-width="0.65"/>
<line x1="54.00" y1="304.02" x2="56.40" y2="304.02" stroke="#222" stroke-width="0.65"/>
<line x1="420.90" y1="304.02" x2="423.60" y2="304.02" stroke="#222" stroke-width="0.65"/>
<line x1="54.00" y1="302.83" x2="56.40" y2="302.83" stroke="#222" stroke-width="0.65"/>
<line x1="420.90" y1="302.83" x2="423.60" y2="302.83" stroke="#222" stroke-width="0.65"/>
<line x1="54.00" y1="301.81" x2="56.40" y2="301.81" stroke="#222" stroke-width="0.65"/>
<line x1="420.90" y1="301.81" x2="423.60" y2="301.81" stroke="#222" stroke-width="0.65"/>
<line x1="54.00" y1="300.91" x2="56.40" y2="300.91" stroke="#222" stroke-width="0.65"/>
<line x1="420.90" y1="300.91" x2="423.60" y2="300.91" stroke="#222" stroke-width="0.65"/>
<line x1="51.80" y1="300.10" x2="56.40" y2="300.10" stroke="#333" stroke-width="0.9"/>
<line x1="418.80" y1="300.10" x2="423.60" y2="300.10" stroke="#333" stroke-width="0.9"/>
<line x1="54.00" y1="294.79" x2="56.40" y2="294.79" stroke="#222" stroke-width="0.65"/>
<line x1="420.90" y1="294.79" x2="423.60" y2="294.79" stroke="#222" stroke-width="0.65"/>
<line x1="54.00" y1="291.68" x2="56.40" y2="291.68" stroke="#222" stroke-width="0.65"/>
<line x1="420.90" y1="291.68" x2="423.60" y2="291.68" stroke="#222" stroke-width="0.65"/>
<line x1="54.00" y1="289.47" x2="56.40" y2="289.47" stroke="#222" stroke-width="0.65"/>
<line x1="420.90" y1="289.47" x2="423.60" y2="289.47" stroke="#222" stroke-width="0.65"/>
<line x1="54.00" y1="287.76" x2="56.40" y2="287.76" stroke="#222" stroke-width="0.65"/>
<line x1="420.90" y1="287.76" x2="423.60" y2="287.76" stroke="#222" stroke-width="0.65"/>
<line x1="54.00" y1="286.37" x2="56.40" y2="286.37" stroke="#222" stroke-width="0.65"/>
<line x1="420.90" y1="286.37" x2="423.60" y2="286.37" stroke="#222" stroke-width="0.65"/>
<line x1="54.00" y1="285.18" x2="56.40" y2="285.18" stroke="#222" stroke-width="0.65"/>
<line x1="420.90" y1="285.18" x2="423.60" y2="285.18" stroke="#222" stroke-width="0.65"/>
<line x1="54.00" y1="284.16" x2="56.40" y2="284.16" stroke="#222" stroke-width="0.65"/>
<line x1="420.90" y1="284.16" x2="423.60" y2="284.16" stroke="#222" stroke-width="0.65"/>
<line x1="54.00" y1="283.26" x2="56.40" y2="283.26" stroke="#222" stroke-width="0.65"/>
<line x1="420.90" y1="283.26" x2="423.60" y2="283.26" stroke="#222" stroke-width="0.65"/>
<line x1="51.80" y1="282.45" x2="56.40" y2="282.45" stroke="#333" stroke-width="0.9"/>
<line x1="418.80" y1="282.45" x2="423.60" y2="282.45" stroke="#333" stroke-width="0.9"/>
<line x1="54.00" y1="277.14" x2="56.40" y2="277.14" stroke="#222" stroke-width="0.65"/>
<line x1="420.90" y1="277.14" x2="423.60" y2="277.14" stroke="#222" stroke-width="0.65"/>
<line x1="54.00" y1="274.03" x2="56.40" y2="274.03" stroke="#222" stroke-width="0.65"/>
<line x1="420.90" y1="274.03" x2="423.60" y2="274.03" stroke="#222" stroke-width="0.65"/>
<line x1="54.00" y1="271.82" x2="56.40" y2="271.82" stroke="#222" stroke-width="0.65"/>
<line x1="420.90" y1="271.82" x2="423.60" y2="271.82" stroke="#222" stroke-width="0.65"/>
<line x1="54.00" y1="270.11" x2="56.40" y2="270.11" stroke="#222" stroke-width="0.65"/>
<line x1="420.90" y1="270.11" x2="423.60" y2="270.11" stroke="#222" stroke-width="0.65"/>
<line x1="54.00" y1="268.72" x2="56.40" y2="268.72" stroke="#222" stroke-width="0.65"/>
<line x1="420.90" y1="268.72" x2="423.60" y2="268.72" stroke="#222" stroke-width="0.65"/>
<line x1="54.00" y1="267.53" x2="56.40" y2="267.53" stroke="#222" stroke-width="0.65"/>
<line x1="420.90" y1="267.53" x2="423.60" y2="267.53" stroke="#222" stroke-width="0.65"/>
<text x="52.88" y="245.50" font-size="10.2" fill="#000" textLength="7.45" lengthAdjust="spacingAndGlyphs" stroke="#000" stroke-width="0.2">0</text>
<text x="121.24" y="245.50" font-size="10.2" fill="#000" textLength="17.74" lengthAdjust="spacingAndGlyphs" stroke="#000" stroke-width="0.2">0.2</text>
<text x="194.69" y="245.50" font-size="10.2" fill="#000" textLength="17.46" lengthAdjust="spacingAndGlyphs" stroke="#000" stroke-width="0.2">0.4</text>
<text x="268.12" y="245.50" font-size="10.2" fill="#000" textLength="17.65" lengthAdjust="spacingAndGlyphs" stroke="#000" stroke-width="0.2">0.6</text>
<text x="341.56" y="245.50" font-size="10.2" fill="#000" textLength="17.65" lengthAdjust="spacingAndGlyphs" stroke="#000" stroke-width="0.2">0.8</text>
<text x="420.16" y="245.50" font-size="10.2" fill="#000" textLength="4.64" lengthAdjust="spacingAndGlyphs" stroke="#000" stroke-width="0.45">1</text>
<text x="52.88" y="420.20" font-size="10.2" fill="#000" textLength="7.45" lengthAdjust="spacingAndGlyphs" stroke="#000" stroke-width="0.2">0</text>
<text x="121.24" y="420.20" font-size="10.2" fill="#000" textLength="17.74" lengthAdjust="spacingAndGlyphs" stroke="#000" stroke-width="0.2">0.2</text>
<text x="194.69" y="420.20" font-size="10.2" fill="#000" textLength="17.46" lengthAdjust="spacingAndGlyphs" stroke="#000" stroke-width="0.2">0.4</text>
<text x="268.12" y="420.20" font-size="10.2" fill="#000" textLength="17.65" lengthAdjust="spacingAndGlyphs" stroke="#000" stroke-width="0.2">0.6</text>
<text x="341.56" y="420.20" font-size="10.2" fill="#000" textLength="17.65" lengthAdjust="spacingAndGlyphs" stroke="#000" stroke-width="0.2">0.8</text>
<text x="420.16" y="420.20" font-size="10.2" fill="#000" textLength="4.64" lengthAdjust="spacingAndGlyphs" stroke="#000" stroke-width="0.45">1</text>
<text x="41.49" y="235.10" font-size="10.2" fill="#000" textLength="7.21" lengthAdjust="spacingAndGlyphs" stroke="#000" stroke-width="0.2">0</text>
<text x="32.13" y="200.41" font-size="10.2" fill="#000" textLength="16.65" lengthAdjust="spacingAndGlyphs" stroke="#000" stroke-width="0.2">0.1</text>
<text x="30.90" y="165.72" font-size="10.2" fill="#000" textLength="17.95" lengthAdjust="spacingAndGlyphs" stroke="#000" stroke-width="0.2">0.2</text>
<text x="30.90" y="131.04" font-size="10.2" fill="#000" textLength="17.87" lengthAdjust="spacingAndGlyphs" stroke="#000" stroke-width="0.2">0.3</text>
<text x="30.90" y="96.35" font-size="10.2" fill="#000" textLength="17.67" lengthAdjust="spacingAndGlyphs" stroke="#000" stroke-width="0.2">0.4</text>
<text x="21.84" y="409.90" font-size="10.2" fill="#000" textLength="14.06" lengthAdjust="spacingAndGlyphs" stroke="#000" stroke-width="0.2">10</text>
<text x="36.10" y="406.00" font-size="6.6" fill="#000" textLength="13.07" lengthAdjust="spacingAndGlyphs" stroke="#000" stroke-width="0.2">-14</text>
<text x="21.84" y="392.25" font-size="10.2" fill="#000" textLength="14.06" lengthAdjust="spacingAndGlyphs" stroke="#000" stroke-width="0.2">10</text>
<text x="36.09" y="388.35" font-size="6.6" fill="#000" textLength="13.21" lengthAdjust="spacingAndGlyphs" stroke="#000" stroke-width="0.2">-13</text>
<text x="21.84" y="374.60" font-size="10.2" fill="#000" textLength="14.06" lengthAdjust="spacingAndGlyphs" stroke="#000" stroke-width="0.2">10</text>
<text x="36.09" y="370.70" font-size="6.6" fill="#000" textLength="13.27" lengthAdjust="spacingAndGlyphs" stroke="#000" stroke-width="0.2">-12</text>
<text x="21.84" y="356.95" font-size="10.2" fill="#000" textLength="14.06" lengthAdjust="spacingAndGlyphs" stroke="#000" stroke-width="0.2">10</text>
<text x="36.09" y="353.05" font-size="6.6" fill="#000" textLength="13.26" lengthAdjust="spacingAndGlyphs" stroke="#000" stroke-width="0.2">-11</text>
<text x="21.84" y="339.30" font-size="10.2" fill="#000" textLength="14.06" lengthAdjust="spacingAndGlyphs" stroke="#000" stroke-width="0.2">10</text>
<text x="36.10" y="335.40" font-size="6.6" fill="#000" textLength="13.16" lengthAdjust="spacingAndGlyphs" stroke="#000" stroke-width="0.2">-10</text>
<text x="27.24" y="321.65" font-size="10.2" fill="#000" textLength="14.06" lengthAdjust="spacingAndGlyphs" stroke="#000" stroke-width="0.2">10</text>
<text x="41.48" y="317.75" font-size="6.6" fill="#000" textLength="8.36" lengthAdjust="spacingAndGlyphs" stroke="#000" stroke-width="0.2">-9</text>
<text x="27.24" y="304.00" font-size="10.2" fill="#000" textLength="14.06" lengthAdjust="spacingAndGlyphs" stroke="#000" stroke-width="0.2">10</text>
<text x="41.48" y="300.10" font-size="6.6" fill="#000" textLength="8.32" lengthAdjust="spacingAndGlyphs" stroke="#000" stroke-width="0.2">-8</text>
<text x="27.24" y="286.35" font-size="10.2" fill="#000" textLength="14.06" lengthAdjust="spacingAndGlyphs" stroke="#000" stroke-width="0.2">10</text>
<text x="41.48" y="282.45" font-size="6.6" fill="#000" textLength="8.39" lengthAdjust="spacingAndGlyphs" stroke="#000" stroke-width="0.2">-7</text>
<text x="189.34" y="257.40" font-size="12.4" fill="#000" textLength="8.71" lengthAdjust="spacingAndGlyphs" stroke="#000" stroke-width="0.2">V</text>
<text x="198.25" y="259.70" font-size="7.6" fill="#000" textLength="15.75" lengthAdjust="spacingAndGlyphs" stroke="#000" stroke-width="0.2">GS</text>
<line x1="214.40" y1="253.80" x2="221.00" y2="253.80" stroke="#666" stroke-width="0.9"/>
<text x="221.59" y="257.40" font-size="12.4" fill="#000" textLength="11.43" lengthAdjust="spacingAndGlyphs" stroke="#000" stroke-width="0.05">Δ</text>
<text x="235.24" y="257.40" font-size="13.2" fill="#000" textLength="11.42" lengthAdjust="spacingAndGlyphs" font-style="italic">ϕ</text>
<text x="247.72" y="259.70" font-size="9.4" fill="#000" textLength="19.61" lengthAdjust="spacingAndGlyphs" stroke="#000" stroke-width="0.1">ms</text>
<text x="272.40" y="257.40" font-size="12.4" fill="#000" textLength="20.60" lengthAdjust="spacingAndGlyphs" stroke="#000" stroke-width="0.2">[V]</text>
<text x="189.34" y="432.70" font-size="12.4" fill="#000" textLength="8.71" lengthAdjust="spacingAndGlyphs" stroke="#000" stroke-width="0.2">V</text>
<text x="198.25" y="435.00" font-size="7.6" fill="#000" textLength="15.75" lengthAdjust="spacingAndGlyphs" stroke="#000" stroke-width="0.2">GS</text>
<line x1="214.40" y1="429.10" x2="221.00" y2="429.10" stroke="#666" stroke-width="0.9"/>
<text x="221.59" y="432.70" font-size="12.4" fill="#000" textLength="11.43" lengthAdjust="spacingAndGlyphs" stroke="#000" stroke-width="0.05">Δ</text>
<text x="235.24" y="432.70" font-size="13.2" fill="#000" textLength="11.42" lengthAdjust="spacingAndGlyphs" font-style="italic">ϕ</text>
<text x="247.72" y="435.00" font-size="9.4" fill="#000" textLength="19.61" lengthAdjust="spacingAndGlyphs" stroke="#000" stroke-width="0.1">ms</text>
<text x="272.40" y="432.70" font-size="12.4" fill="#000" textLength="20.60" lengthAdjust="spacingAndGlyphs" stroke="#000" stroke-width="0.2">[V]</text>
<text transform="translate(15.9,199.3) rotate(-90)" font-size="14.0" fill="#000" stroke="#000" stroke-width="0.2" textLength="93.6" lengthAdjust="spacingAndGlyphs">Drain Current [µA]</text>
<text transform="translate(15.9,379.6) rotate(-90)" font-size="14.0" fill="#000" stroke="#000" stroke-width="0.2" textLength="86.6" lengthAdjust="spacingAndGlyphs">Drain Current [A]</text>
<text x="59.02" y="105.30" font-size="11.0" fill="#000" textLength="19.37" lengthAdjust="spacingAndGlyphs" stroke="#000" stroke-width="0.24">(a)</text>
<text x="59.03" y="279.40" font-size="11.0" fill="#000" textLength="19.03" lengthAdjust="spacingAndGlyphs" stroke="#000" stroke-width="0.24">(b)</text>
<path d="M91.40,118.90 L96.10,118.90 L93.75,115.50 Z" fill="#fff" stroke="#2448ff" stroke-width="1.2" stroke-linejoin="miter"/>
<rect x="102.60" y="114.40" width="6.60" height="4.90" fill="#fff" stroke="#f0088a" stroke-width="1.0"/>
<ellipse cx="117.15" cy="117.05" rx="2.35" ry="2.15" fill="#fff" stroke="#08aaf8" stroke-width="1.2"/>
<text x="140.44" y="119.50" font-size="9.4" fill="#000" textLength="89.62" lengthAdjust="spacingAndGlyphs" stroke="#000" stroke-width="0.2">TCAD Simulation</text>
<line x1="90.50" y1="131.20" x2="102.10" y2="131.20" stroke="#f0088a" stroke-width="0.9"/>
<line x1="105.30" y1="131.20" x2="117.00" y2="131.20" stroke="#08aaf8" stroke-width="0.9"/>
<line x1="120.40" y1="131.20" x2="132.10" y2="131.20" stroke="#2448ff" stroke-width="0.9"/>
<text x="141.54" y="133.70" font-size="9.4" fill="#000" textLength="83.74" lengthAdjust="spacingAndGlyphs" stroke="#000" stroke-width="0.2">Quantum Model</text>
<text x="90.19" y="151.90" font-size="9.7" fill="#000" textLength="8.92" lengthAdjust="spacingAndGlyphs" stroke="#000" stroke-width="0.2">N</text>
<text x="98.76" y="154.70" font-size="9.7" fill="#000" textLength="9.14" lengthAdjust="spacingAndGlyphs" stroke="#000" stroke-width="0.2">D</text>
<text x="117.63" y="151.90" font-size="9.7" fill="#000" textLength="23.13" lengthAdjust="spacingAndGlyphs" stroke="#000" stroke-width="0.2">= 10</text>
<text x="142.38" y="148.20" font-size="9.7" fill="#000" textLength="12.04" lengthAdjust="spacingAndGlyphs" stroke="#000" stroke-width="0.2">19</text>
<text x="156.77" y="151.90" font-size="9.7" fill="#000" textLength="16.55" lengthAdjust="spacingAndGlyphs" stroke="#000" stroke-width="0.2">cm</text>
<text x="174.00" y="148.20" font-size="9.7" fill="#000" textLength="9.99" lengthAdjust="spacingAndGlyphs" stroke="#000" stroke-width="0.2">-3</text>
<text x="91.15" y="168.50" font-size="9.7" fill="#000" textLength="6.99" lengthAdjust="spacingAndGlyphs" stroke="#000" stroke-width="0.2">V</text>
<text x="97.87" y="171.60" font-size="8.6" fill="#000" textLength="13.99" lengthAdjust="spacingAndGlyphs" stroke="#000" stroke-width="0.2">DS</text>
<text x="117.61" y="168.50" font-size="9.7" fill="#000" textLength="38.34" lengthAdjust="spacingAndGlyphs" stroke="#000" stroke-width="0.2">= 0.7 V</text>
<text x="90.75" y="184.50" font-size="10.6" fill="#000" textLength="2.83" lengthAdjust="spacingAndGlyphs" stroke="#000" stroke-width="0.2">t</text>
<text x="93.06" y="187.50" font-size="10.6" fill="#000" textLength="13.47" lengthAdjust="spacingAndGlyphs" stroke="#000" stroke-width="0.2">ox</text>
<text x="118.40" y="184.50" font-size="10.4" fill="#000" textLength="37.60" lengthAdjust="spacingAndGlyphs" stroke="#000" stroke-width="0.2">= 1 nm</text>
<path d="M88.20,296.80 L92.90,296.80 L90.55,293.40 Z" fill="#fff" stroke="#2448ff" stroke-width="1.2" stroke-linejoin="miter"/>
<rect x="99.40" y="292.30" width="6.60" height="4.90" fill="#fff" stroke="#f0088a" stroke-width="1.0"/>
<ellipse cx="113.95" cy="294.95" rx="2.35" ry="2.15" fill="#fff" stroke="#08aaf8" stroke-width="1.2"/>
<text x="137.24" y="297.40" font-size="9.4" fill="#000" textLength="89.62" lengthAdjust="spacingAndGlyphs" stroke="#000" stroke-width="0.2">TCAD Simulation</text>
<line x1="87.30" y1="309.10" x2="98.90" y2="309.10" stroke="#f0088a" stroke-width="0.9"/>
<line x1="102.10" y1="309.10" x2="113.80" y2="309.10" stroke="#08aaf8" stroke-width="0.9"/>
<line x1="117.20" y1="309.10" x2="128.90" y2="309.10" stroke="#2448ff" stroke-width="0.9"/>
<text x="138.34" y="311.60" font-size="9.4" fill="#000" textLength="83.74" lengthAdjust="spacingAndGlyphs" stroke="#000" stroke-width="0.2">Quantum Model</text>
<text x="86.99" y="329.80" font-size="9.7" fill="#000" textLength="8.92" lengthAdjust="spacingAndGlyphs" stroke="#000" stroke-width="0.2">N</text>
<text x="95.56" y="332.60" font-size="9.7" fill="#000" textLength="9.14" lengthAdjust="spacingAndGlyphs" stroke="#000" stroke-width="0.2">D</text>
<text x="114.43" y="329.80" font-size="9.7" fill="#000" textLength="23.13" lengthAdjust="spacingAndGlyphs" stroke="#000" stroke-width="0.2">= 10</text>
<text x="139.18" y="326.10" font-size="9.7" fill="#000" textLength="12.04" lengthAdjust="spacingAndGlyphs" stroke="#000" stroke-width="0.2">19</text>
<text x="153.57" y="329.80" font-size="9.7" fill="#000" textLength="16.55" lengthAdjust="spacingAndGlyphs" stroke="#000" stroke-width="0.2">cm</text>
<text x="170.80" y="326.10" font-size="9.7" fill="#000" textLength="9.99" lengthAdjust="spacingAndGlyphs" stroke="#000" stroke-width="0.2">-3</text>
<text x="87.95" y="346.40" font-size="9.7" fill="#000" textLength="6.99" lengthAdjust="spacingAndGlyphs" stroke="#000" stroke-width="0.2">V</text>
<text x="94.67" y="349.50" font-size="8.6" fill="#000" textLength="13.99" lengthAdjust="spacingAndGlyphs" stroke="#000" stroke-width="0.2">DS</text>
<text x="114.41" y="346.40" font-size="9.7" fill="#000" textLength="38.34" lengthAdjust="spacingAndGlyphs" stroke="#000" stroke-width="0.2">= 0.7 V</text>
<text x="87.55" y="362.40" font-size="10.6" fill="#000" textLength="2.83" lengthAdjust="spacingAndGlyphs" stroke="#000" stroke-width="0.2">t</text>
<text x="89.86" y="365.40" font-size="10.6" fill="#000" textLength="13.47" lengthAdjust="spacingAndGlyphs" stroke="#000" stroke-width="0.2">ox</text>
<text x="115.20" y="362.40" font-size="10.4" fill="#000" textLength="37.60" lengthAdjust="spacingAndGlyphs" stroke="#000" stroke-width="0.2">= 1 nm</text>
<line x1="293.40" y1="114.70" x2="305.10" y2="114.70" stroke="#08aaf8" stroke-width="1.0"/>
<ellipse cx="313.00" cy="115.05" rx="2.45" ry="2.10" fill="#fff" stroke="#08aaf8" stroke-width="1.3"/>
<text x="323.43" y="117.80" font-size="9.5" fill="#08aaf8" textLength="7.45" lengthAdjust="spacingAndGlyphs" stroke="#08aaf8" stroke-width="0.25">T</text>
<text x="330.60" y="120.30" font-size="7.4" fill="#08aaf8" textLength="12.24" lengthAdjust="spacingAndGlyphs" stroke="#08aaf8" stroke-width="0.3">SC</text>
<text x="342.61" y="117.80" font-size="9.5" fill="#08aaf8" textLength="37.08" lengthAdjust="spacingAndGlyphs" stroke="#08aaf8" stroke-width="0.25">= 3 nm</text>
<line x1="293.40" y1="133.20" x2="305.10" y2="133.20" stroke="#f0088a" stroke-width="1.0"/>
<rect x="311.45" y="130.65" width="6.90" height="5.40" fill="#fff" stroke="#f0088a" stroke-width="1.1"/>
<text x="322.44" y="135.90" font-size="9.5" fill="#f0088a" textLength="7.02" lengthAdjust="spacingAndGlyphs" stroke="#f0088a" stroke-width="0.25">T</text>
<text x="329.17" y="138.40" font-size="7.4" fill="#f0088a" textLength="13.19" lengthAdjust="spacingAndGlyphs" stroke="#f0088a" stroke-width="0.3">SC</text>
<text x="341.93" y="135.90" font-size="9.5" fill="#f0088a" textLength="36.14" lengthAdjust="spacingAndGlyphs" stroke="#f0088a" stroke-width="0.25">= 4 nm</text>
<line x1="293.40" y1="154.60" x2="305.10" y2="154.60" stroke="#2448ff" stroke-width="1.0"/>
<path d="M311.95,156.75 L316.55,156.75 L314.25,153.40 Z" fill="#fff" stroke="#2448ff" stroke-width="1.3" stroke-linejoin="miter"/>
<text x="323.83" y="157.40" font-size="9.5" fill="#2448ff" textLength="7.35" lengthAdjust="spacingAndGlyphs" stroke="#2448ff" stroke-width="0.25">T</text>
<text x="330.89" y="159.90" font-size="7.4" fill="#2448ff" textLength="12.45" lengthAdjust="spacingAndGlyphs" stroke="#2448ff" stroke-width="0.3">SC</text>
<text x="343.22" y="157.40" font-size="9.5" fill="#2448ff" textLength="36.87" lengthAdjust="spacingAndGlyphs" stroke="#2448ff" stroke-width="0.25">= 5 nm</text>
<line x1="325.00" y1="340.80" x2="336.70" y2="340.80" stroke="#08aaf8" stroke-width="1.0"/>
<ellipse cx="344.60" cy="341.15" rx="2.45" ry="2.10" fill="#fff" stroke="#08aaf8" stroke-width="1.3"/>
<text x="355.03" y="343.90" font-size="9.5" fill="#08aaf8" textLength="7.45" lengthAdjust="spacingAndGlyphs" stroke="#08aaf8" stroke-width="0.25">T</text>
<text x="362.20" y="346.40" font-size="7.4" fill="#08aaf8" textLength="12.24" lengthAdjust="spacingAndGlyphs" stroke="#08aaf8" stroke-width="0.3">SC</text>
<text x="374.21" y="343.90" font-size="9.5" fill="#08aaf8" textLength="37.08" lengthAdjust="spacingAndGlyphs" stroke="#08aaf8" stroke-width="0.25">= 3 nm</text>
<line x1="325.00" y1="359.30" x2="336.70" y2="359.30" stroke="#f0088a" stroke-width="1.0"/>
<rect x="343.05" y="356.75" width="6.90" height="5.40" fill="#fff" stroke="#f0088a" stroke-width="1.1"/>
<text x="354.04" y="362.00" font-size="9.5" fill="#f0088a" textLength="7.02" lengthAdjust="spacingAndGlyphs" stroke="#f0088a" stroke-width="0.25">T</text>
<text x="360.77" y="364.50" font-size="7.4" fill="#f0088a" textLength="13.19" lengthAdjust="spacingAndGlyphs" stroke="#f0088a" stroke-width="0.3">SC</text>
<text x="373.53" y="362.00" font-size="9.5" fill="#f0088a" textLength="36.14" lengthAdjust="spacingAndGlyphs" stroke="#f0088a" stroke-width="0.25">= 4 nm</text>
<line x1="325.00" y1="380.70" x2="336.70" y2="380.70" stroke="#2448ff" stroke-width="1.0"/>
<path d="M343.55,382.85 L348.15,382.85 L345.85,379.50 Z" fill="#fff" stroke="#2448ff" stroke-width="1.3" stroke-linejoin="miter"/>
<text x="355.43" y="383.50" font-size="9.5" fill="#2448ff" textLength="7.35" lengthAdjust="spacingAndGlyphs" stroke="#2448ff" stroke-width="0.25">T</text>
<text x="362.49" y="386.00" font-size="7.4" fill="#2448ff" textLength="12.45" lengthAdjust="spacingAndGlyphs" stroke="#2448ff" stroke-width="0.3">SC</text>
<text x="374.82" y="383.50" font-size="9.5" fill="#2448ff" textLength="36.87" lengthAdjust="spacingAndGlyphs" stroke="#2448ff" stroke-width="0.25">= 5 nm</text>
</svg>
</body></html>
